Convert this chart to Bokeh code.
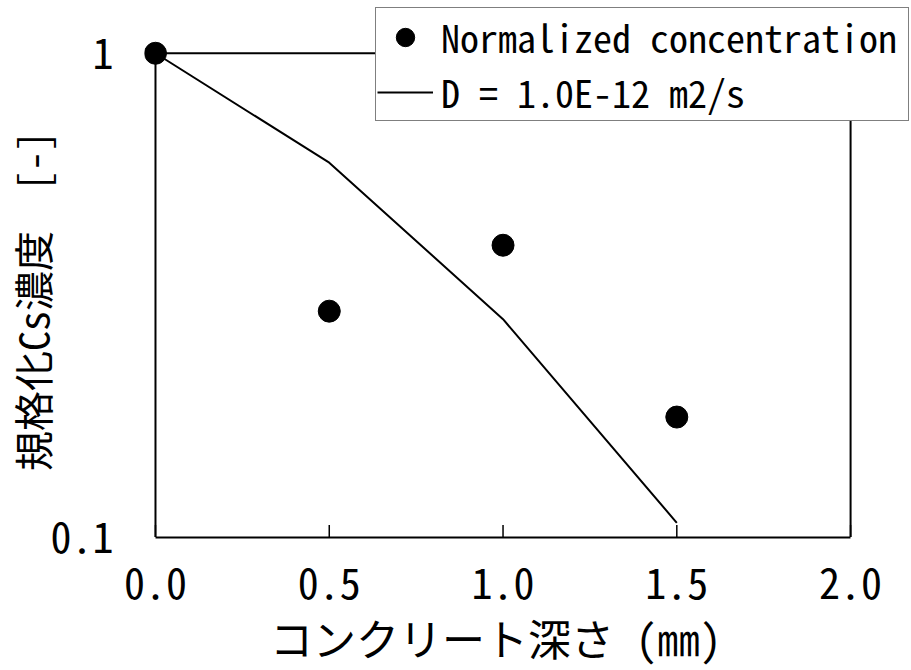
from bokeh.plotting import figure
from bokeh.models import (Range1d, FixedTicker, NumeralTickFormatter, CustomJSTickFormatter,
                          Legend, LegendItem)
from bokeh.embed import file_html
from bokeh.resources import INLINE

# Measured normalized Cs concentration versus depth
depth_meas = [0.0, 0.5, 1.0, 1.5]
conc_meas = [1.0, 0.293, 0.401, 0.177]

# Diffusion model, D = 1.0E-12 m2/s
depth_model = [0.0, 0.5, 1.0, 1.5]
conc_model = [1.0, 0.594, 0.282, 0.107]

x_ticks = [0.0, 0.5, 1.0, 1.5, 2.0]
y_ticks = [0.1, 1.0]

# axis box limits
X_MIN, X_MAX = 0.0, 2.0
Y_MIN, Y_MAX = 0.1, 1.0

# The drawing area is a little larger than the axis box so that the corner
# marker and the legend, which sits over the top-right edge, stay whole.
FRAME_LEFT, FRAME_TOP, FRAME_BOTTOM = 143, 4, 131
PX_PER_X = 348.0
PX_PER_DECADE = 486.0
TICK_PX = 12
x_lo = X_MIN - (154 - FRAME_LEFT) / PX_PER_X
x_hi = X_MIN + (911 - 154) / PX_PER_X
y_lo = Y_MIN * 10 ** (-0.5 / PX_PER_DECADE)
y_hi = Y_MAX * 10 ** ((53 - FRAME_TOP) / PX_PER_DECADE)

mono = "Noto Sans Mono CJK JP"

p = figure(width=911, height=670, output_backend="svg", toolbar_location=None,
           y_axis_type="log", x_range=Range1d(x_lo, x_hi), y_range=Range1d(y_lo, y_hi),
           min_border_left=FRAME_LEFT, min_border_right=0, min_border_top=FRAME_TOP,
           min_border_bottom=FRAME_BOTTOM)
p.background_fill_color = "white"
p.border_fill_color = "white"
p.outline_line_color = None
p.xgrid.visible = False
p.ygrid.visible = False

xa = p.xaxis[0]
xa.ticker = FixedTicker(ticks=x_ticks)
xa.formatter = NumeralTickFormatter(format="0.0")
xa.bounds = (X_MIN, X_MAX)
xa.major_tick_in = 0
xa.major_tick_out = 0
xa.minor_tick_line_color = None
xa.axis_line_color = "black"
xa.axis_line_width = 2
xa.major_label_text_font = mono
xa.major_label_text_font_size = "42px"
xa.major_label_text_color = "black"
xa.major_label_standoff = 30
# trailing spaces keep the title centred under the axis box rather than the wider drawing area
xa.axis_label = "コンクリート深さ (㎜)   "
xa.axis_label_text_font = mono
xa.axis_label_text_font_style = "normal"
xa.axis_label_text_font_size = "43px"
xa.axis_label_text_color = "black"
xa.axis_label_standoff = 4

ya = p.yaxis[0]
ya.ticker = FixedTicker(ticks=y_ticks)
ya.formatter = CustomJSTickFormatter(code="return tick.toString();")
ya.bounds = (Y_MIN, Y_MAX)
ya.major_tick_in = 0
ya.major_tick_out = 0
ya.minor_tick_line_color = None
ya.axis_line_color = None
ya.major_label_text_font = mono
ya.major_label_text_font_size = "42px"
ya.major_label_text_color = "black"
ya.major_label_standoff = FRAME_LEFT - 112
ya.axis_label = "規格化Cs濃度　[-]   "
ya.axis_label_text_font = mono
ya.axis_label_text_font_style = "normal"
ya.axis_label_text_font_size = "40px"
ya.axis_label_text_color = "black"
ya.axis_label_standoff = -14

# left, top and right edges of the axis box
p.segment(x0=[X_MIN, X_MIN, X_MAX], y0=[Y_MIN, Y_MAX, Y_MIN],
          x1=[X_MIN, X_MAX, X_MAX], y1=[Y_MAX, Y_MAX, Y_MAX],
          line_color="black", line_width=2)

# inward tick marks on the depth axis
tick_top = Y_MIN * 10 ** (TICK_PX / PX_PER_DECADE)
p.segment(x0=x_ticks, y0=[Y_MIN] * len(x_ticks), x1=x_ticks, y1=[tick_top] * len(x_ticks),
          line_color="black", line_width=1.5)

line_r = p.line(depth_model, conc_model, line_color="black", line_width=2)
pts_r = p.scatter(depth_meas, conc_meas, size=22, marker="circle",
                  fill_color="black", line_color="black")

legend = Legend(items=[LegendItem(label="Normalized concentration", renderers=[pts_r]),
                       LegendItem(label="D = 1.0E-12 m2/s", renderers=[line_r])],
                location=(374 - FRAME_LEFT, 539 - 123), orientation="vertical")
legend.label_text_font = mono
legend.label_text_font_size = "38px"
legend.label_text_color = "black"
legend.glyph_width = 56
legend.glyph_height = 46
legend.label_height = 46
legend.label_width = 466
legend.label_standoff = 8
legend.padding = 1
legend.spacing = 0
legend.margin = 0
legend.border_line_color = "black"
legend.border_line_width = 1.5
legend.background_fill_color = "white"
legend.background_fill_alpha = 1
p.add_layout(legend, "center")

open("out.html", "w").write(file_html(p, INLINE))
